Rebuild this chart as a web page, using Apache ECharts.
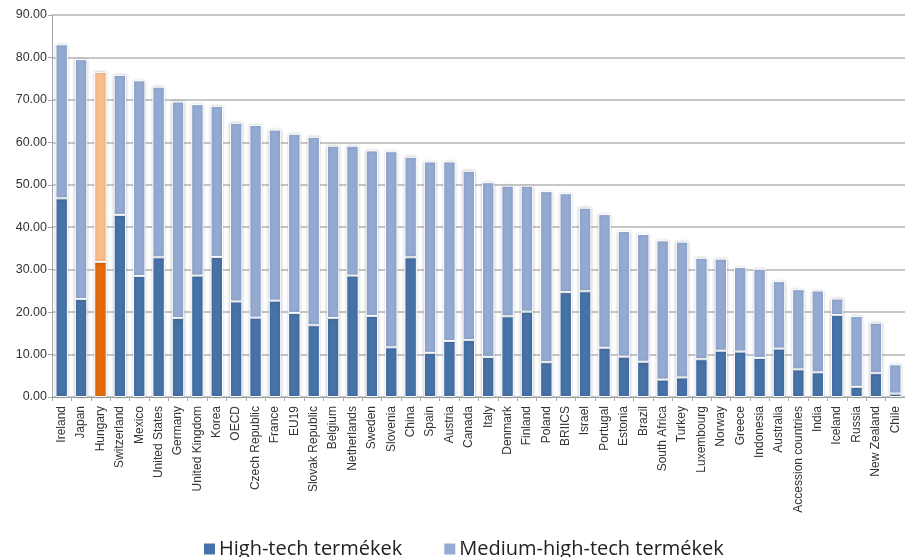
<!DOCTYPE html>
<html>
<head>
<meta charset="utf-8">
<script src="https://cdn.jsdelivr.net/npm/echarts@6/dist/echarts.min.js"></script>
<style>
    html, body { margin: 0; padding: 0; background: #fff; }
    #chart { width: 905px; height: 557px; }
</style>
</head>
<body>
<div id="chart"></div>
<script>
var countries = ['Ireland', 'Japan', 'Hungary', 'Switzerland', 'Mexico', 'United States', 'Germany',
    'United Kingdom', 'Korea', 'OECD', 'Czech Republic', 'France', 'EU19', 'Slovak Republic', 'Belgium',
    'Netherlands', 'Sweden', 'Slovenia', 'China', 'Spain', 'Austria', 'Canada', 'Italy', 'Denmark',
    'Finland', 'Poland', 'BRIICS', 'Israel', 'Portugal', 'Estonia', 'Brazil', 'South Africa', 'Turkey',
    'Luxembourg', 'Norway', 'Greece', 'Indonesia', 'Australia', 'Accession countries', 'India',
    'Iceland', 'Russia', 'New Zealand', 'Chile'];

// high-tech share
var highTech = [46.8, 23.1, 31.8, 42.9, 28.5, 32.9, 18.6, 28.6, 33.0, 22.5, 18.7, 22.7, 19.8, 16.9,
    18.6, 28.6, 19.1, 11.7, 32.9, 10.4, 13.2, 13.4, 9.4, 19.0, 20.1, 8.2, 24.7, 24.9, 11.6, 9.5,
    8.3, 4.1, 4.6, 8.9, 10.9, 10.7, 9.2, 11.4, 6.5, 5.8, 19.3, 2.4, 5.6, 0.8];

// medium-high-tech share
var mediumHighTech = [36.3, 56.5, 44.8, 33.0, 46.1, 40.2, 51.0, 40.4, 35.6, 42.1, 45.4, 40.3, 42.2,
    44.4, 40.6, 30.6, 39.0, 46.2, 23.7, 45.1, 42.3, 39.9, 41.2, 30.8, 29.7, 40.3, 23.3, 19.7, 31.5,
    29.6, 30.1, 32.8, 32.0, 23.9, 21.7, 19.9, 21.0, 15.9, 18.9, 19.3, 3.9, 16.7, 11.9, 6.9];

var yTicks = [0, 10, 20, 30, 40, 50, 60, 70, 80, 90];

var c_dark = '#4672a8', c_light = '#94aad2';
var h_dark = '#e36c0a', h_light = '#f9bd8c';
var highlight = 'Hungary';

function mkData(vals, hiColor) {
    var out = [];
    for (var i = 0; i < vals.length; i++) {
        if (countries[i] == highlight) {
            out.push({ value: vals[i], itemStyle: { color: hiColor } });
        } else {
            out.push(vals[i]);
        }
    }
    return out;
}

var barStyle = {
    borderColor: '#ffffff',
    borderWidth: 1,
    shadowColor: 'rgba(0,0,0,0.22)',
    shadowBlur: 3
};

var myChart = echarts.init(document.getElementById('chart'), null, { renderer: 'canvas' });

var option = {
    backgroundColor: '#ffffff',
    animation: false,
    textStyle: { fontFamily: 'Liberation Sans, Arial, sans-serif' },
    grid: {
        left: 52,
        top: 15,
        right: -8,
        bottom: 160
    },
    legend: {
        left: 197,
        top: 534,
        itemWidth: 13,
        itemHeight: 13,
        itemGap: 40,
        icon: 'rect',
        textStyle: { fontSize: 20, color: '#222', fontFamily: 'Open Sans, sans-serif', padding: [0, 0, 0, -2] },
        data: ['High-tech termékek', 'Medium-high-tech termékek']
    },
    xAxis: {
        type: 'category',
        data: countries,
        axisLine: { lineStyle: { color: '#a6a6a6', width: 1 } },
        axisTick: { show: true, length: 4, lineStyle: { color: '#a6a6a6' } },
        axisLabel: {
            rotate: 90,
            interval: 0,
            margin: 9,
            fontSize: 12,
            color: '#333'
        }
    },
    yAxis: {
        type: 'value',
        min: yTicks[0],
        max: yTicks[yTicks.length - 1],
        interval: 10,
        axisLine: { show: true, lineStyle: { color: '#a6a6a6' } },
        axisTick: { show: true, length: 4, lineStyle: { color: '#a6a6a6' } },
        axisLabel: {
            fontSize: 12.5,
            color: '#333',
            margin: 5,
            formatter: function (v) { return v.toFixed(2); }
        },
        splitLine: { show: true, lineStyle: { color: '#b4b4b4', width: 1.5 } }
    },
    series: [{
        name: 'High-tech termékek',
        type: 'bar',
        stack: 'total',
        barCategoryGap: '36%',
        color: c_dark,
        itemStyle: barStyle,
        data: mkData(highTech, h_dark)
    }, {
        name: 'Medium-high-tech termékek',
        type: 'bar',
        stack: 'total',
        barCategoryGap: '36%',
        color: c_light,
        itemStyle: barStyle,
        data: mkData(mediumHighTech, h_light)
    }]
};

myChart.setOption(option, true);
</script>
</body>
</html>
